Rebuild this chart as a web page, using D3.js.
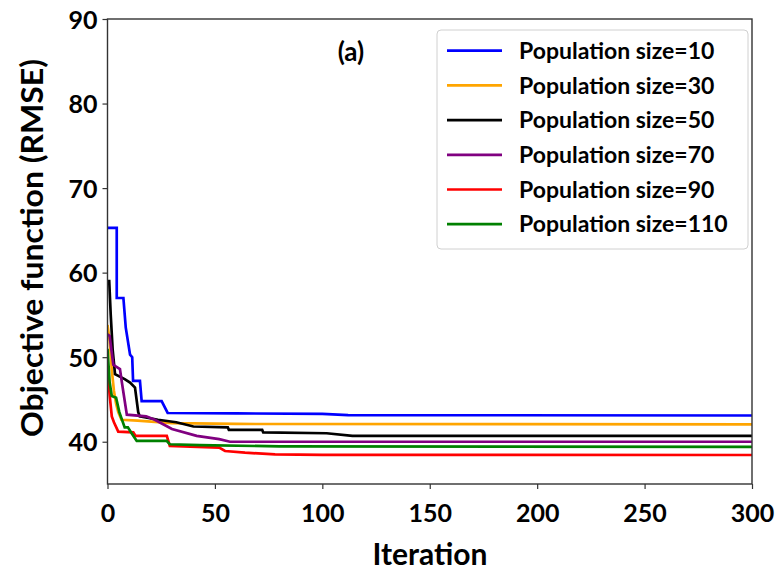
<!DOCTYPE html>
<html><head><meta charset="utf-8">
<script src="https://cdn.jsdelivr.net/npm/d3@7"></script>
<style>
html,body{margin:0;padding:0;background:#fff;}
svg text{font-family:"Lato","Open Sans",sans-serif;font-weight:bold;fill:#000;}
</style></head>
<body><svg id="chart" width="784" height="577"></svg>
<script>
// ---- data ----
const xTicks = [0, 50, 100, 150, 200, 250, 300];
const yTicks = [40, 50, 60, 70, 80, 90];
const seriesNames = ["Population size=10","Population size=30","Population size=50","Population size=70","Population size=90","Population size=110"];
const seriesColors = ["#0000ff","#ffa500","#000000","#800080","#ff0000","#008000"];

const pop10 = [[0,65.3],[4.3,65.3],[4.3,57.0],[7.4,57.0],[8.5,53.5],[10.5,50.3],[11.5,50.0],[11.9,47.2],[15.1,47.2],[15.9,44.8],[25.2,44.8],[28,43.4],[60,43.35],[100,43.3],[112,43.15],[300,43.1]];
const pop30 = [[0,53.8],[1,52],[2,48.5],[3,46],[4,44.5],[5,43.5],[6.5,42.6],[14,42.5],[30,42.2],[60,42.1],[300,42.05]];
const pop50 = [[0,59.0],[0.8,59.0],[1.5,55],[2.4,50.9],[3.5,48],[8,47.4],[10.5,47.0],[12.8,46.4],[14.3,43.5],[15,43.0],[23.5,42.6],[32,42.3],[40,41.8],[56,41.7],[56.5,41.4],[72,41.4],[72.5,41.1],[102,41.0],[114,40.7],[300,40.7]];
const pop70 = [[0,52.7],[1,52.5],[2.7,49.1],[5.8,48.6],[6.7,47.0],[9,43.2],[18,43.0],[22,42.6],[30,41.5],[41.5,40.7],[52,40.3],[57,40.0],[300,40.0]];
const pop90 = [[0,48.5],[1,45.5],[2,43],[3,42.3],[5,41.2],[12,41.1],[13,40.7],[27.6,40.7],[29,39.5],[52,39.3],[54.7,38.9],[64,38.7],[78,38.5],[100,38.45],[300,38.43]];
const pop110 = [[0,51],[1,47],[2,45.4],[4,45.2],[5.5,43.5],[8,41.7],[9.5,41.7],[11,41.1],[13.6,40.1],[27.5,40.1],[29,39.7],[43,39.6],[80,39.45],[300,39.4]];
const allSeries = [pop10, pop30, pop50, pop70, pop90, pop110];

// ---- layout ----
const svg = d3.select("#chart");
const pL = 107.5, pR = 752, pT = 19, pB = 484;
const x = d3.scaleLinear().domain([0, 300]).range([pL, pR]);
const y = d3.scaleLinear().domain([35, 90]).range([pB, pT]);

// lines
const line = d3.line().x(d => x(d[0])).y(d => y(d[1]));
svg.append("defs").append("clipPath").attr("id","clip")
  .append("rect").attr("x",pL).attr("y",pT).attr("width",pR-pL).attr("height",pB-pT);
const g = svg.append("g").attr("clip-path","url(#clip)");
allSeries.forEach((s,i) => {
  g.append("path").datum(s).attr("d", line)
    .attr("fill","none").attr("stroke", seriesColors[i]).attr("stroke-width", 2.7)
    .attr("stroke-linejoin","miter");
});

// frame
svg.append("rect").attr("x",pL).attr("y",pT).attr("width",pR-pL).attr("height",pB-pT)
  .attr("fill","none").attr("stroke","#333").attr("stroke-width",1.4);

// axes
const xAxis = svg.append("g").attr("transform",`translate(0,${pB})`)
  .call(d3.axisBottom(x).tickValues(xTicks).tickSize(5).tickPadding(4).tickFormat(d3.format("d")));
const yAxis = svg.append("g").attr("transform",`translate(${pL},0)`)
  .call(d3.axisLeft(y).tickValues(yTicks).tickSize(5).tickPadding(5).tickFormat(d3.format("d")));
[xAxis, yAxis].forEach(a => {
  a.select(".domain").remove();
  a.selectAll(".tick line").attr("stroke","#333").attr("stroke-width",1.2);
  a.selectAll(".tick text").style("font-size","25px").style("font-family","Lato, sans-serif").style("font-weight","bold").attr("fill","#000");
});
xAxis.selectAll(".tick text").attr("dy", null).attr("y", 38);
yAxis.selectAll(".tick text").attr("dy", "0.36em");

// axis labels
svg.append("text").attr("x", 430).attr("y", 565).attr("text-anchor","middle")
  .style("font-size","30px").text("Iteration");
svg.append("text").attr("transform",`translate(43,248) rotate(-90)`).attr("text-anchor","middle")
  .style("font-size","30px").attr("textLength", 378).attr("lengthAdjust","spacingAndGlyphs")
  .text("Objective function (RMSE)");

// panel label
svg.append("text").attr("x", 351).attr("y", 61).attr("text-anchor","middle")
  .style("font-size","26px").text("(a)");

// legend
const lg = svg.append("g");
lg.append("rect").attr("x",437).attr("y",30).attr("width",311).attr("height",219).attr("rx",4)
  .attr("fill","#fff").attr("stroke","#d0d0d0").attr("stroke-width",1);
seriesNames.forEach((n,i) => {
  const yy = 50.7 + i*34.7;
  lg.append("line").attr("x1",447).attr("x2",502).attr("y1",yy).attr("y2",yy)
    .attr("stroke",seriesColors[i]).attr("stroke-width",2.7);
  lg.append("text").attr("x",519).attr("y",yy).attr("dy","0.36em")
    .style("font-size","23px").text(n);
});
</script></body></html>
